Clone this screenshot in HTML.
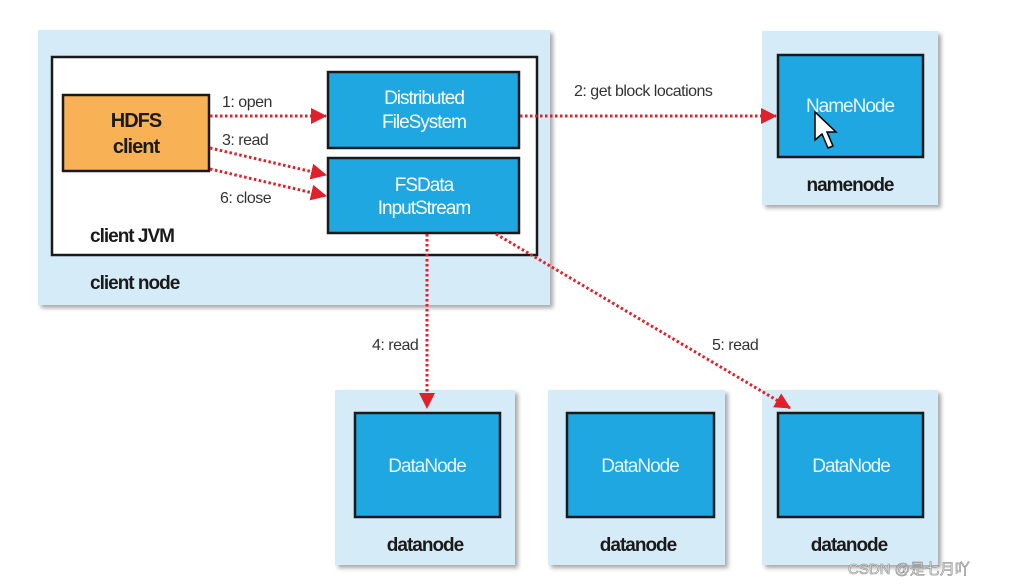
<!DOCTYPE html>
<html><head><meta charset="utf-8"><style>
html,body{margin:0;padding:0;background:#fff;width:1015px;height:588px;overflow:hidden}
svg text{font-family:"Liberation Sans","DejaVu Sans",sans-serif}
</style></head><body>
<svg width="1015" height="588" viewBox="0 0 1015 588" xmlns="http://www.w3.org/2000/svg">
<defs>
<filter id="sh" x="-5%" y="-5%" width="115%" height="115%"><feDropShadow dx="3" dy="3" stdDeviation="2" flood-color="#000" flood-opacity="0.35"/></filter>
<marker id="ar2" markerWidth="16" markerHeight="16" refX="15" refY="8" orient="auto" markerUnits="userSpaceOnUse"><path d="M0,0 L16,8 L0,16 z" fill="#e0202a"/></marker>
</defs>
<!-- client node -->
<rect x="38" y="30" width="512" height="275" fill="#d5ebf7" filter="url(#sh)"/>
<rect x="52" y="57" width="485" height="198" fill="#fff" stroke="#1a1a1a" stroke-width="2.5"/>
<rect x="63" y="95" width="146" height="76" fill="#f8b154" stroke="#1a1a1a" stroke-width="2.5"/>
<text x="136" y="127" text-anchor="middle" font-size="20" font-weight="bold" fill="#1a1a1a" letter-spacing="-1">HDFS</text>
<text x="136" y="153" text-anchor="middle" font-size="20" font-weight="bold" fill="#1a1a1a" letter-spacing="-1">client</text>
<rect x="328" y="72" width="191" height="76" fill="#1ea7e1" stroke="#1a1a1a" stroke-width="2.5"/>
<text x="424" y="104" text-anchor="middle" font-size="19" fill="#fff" letter-spacing="-1">Distributed</text>
<text x="424" y="128" text-anchor="middle" font-size="19" fill="#fff" letter-spacing="-1">FileSystem</text>
<rect x="328" y="158" width="191" height="75" fill="#1ea7e1" stroke="#1a1a1a" stroke-width="2.5"/>
<text x="424" y="191" text-anchor="middle" font-size="19" fill="#fff" letter-spacing="-1">FSData</text>
<text x="424" y="214" text-anchor="middle" font-size="19" fill="#fff" letter-spacing="-1">InputStream</text>
<text x="90" y="242" font-size="19" font-weight="bold" fill="#1a1a1a" letter-spacing="-1">client JVM</text>
<text x="90" y="289" font-size="19" font-weight="bold" fill="#1a1a1a" letter-spacing="-1">client node</text>
<!-- namenode -->
<rect x="762" y="31" width="176" height="174" fill="#d5ebf7" filter="url(#sh)"/>
<rect x="778" y="55" width="145" height="102" fill="#1ea7e1" stroke="#1a1a1a" stroke-width="2.5"/>
<text x="850" y="112" text-anchor="middle" font-size="19" fill="#e8f6fd" letter-spacing="-1">NameNode</text>
<path d="M815,112 L815,140 L822,134 L828,148 L833,146 L827,132 L836,132 z" fill="#fff" stroke="#000" stroke-width="1.5"/>
<text x="850" y="191" text-anchor="middle" font-size="19" font-weight="bold" fill="#1a1a1a" letter-spacing="-1">namenode</text>
<!-- datanodes -->
<rect x="335" y="390" width="180" height="175" fill="#d5ebf7" filter="url(#sh)"/>
<rect x="355" y="413" width="145" height="104" fill="#1ea7e1" stroke="#1a1a1a" stroke-width="2.5"/>
<text x="427" y="472" text-anchor="middle" font-size="19" fill="#e8f6fd" letter-spacing="-1">DataNode</text>
<text x="425" y="551" text-anchor="middle" font-size="19" font-weight="bold" fill="#1a1a1a" letter-spacing="-1">datanode</text>
<rect x="548" y="390" width="177" height="175" fill="#d5ebf7" filter="url(#sh)"/>
<rect x="567" y="413" width="147" height="104" fill="#1ea7e1" stroke="#1a1a1a" stroke-width="2.5"/>
<text x="640" y="472" text-anchor="middle" font-size="19" fill="#e8f6fd" letter-spacing="-1">DataNode</text>
<text x="638" y="551" text-anchor="middle" font-size="19" font-weight="bold" fill="#1a1a1a" letter-spacing="-1">datanode</text>
<rect x="762" y="390" width="176" height="175" fill="#d5ebf7" filter="url(#sh)"/>
<rect x="778" y="413" width="145" height="104" fill="#1ea7e1" stroke="#1a1a1a" stroke-width="2.5"/>
<text x="851" y="472" text-anchor="middle" font-size="19" fill="#e8f6fd" letter-spacing="-1">DataNode</text>
<text x="849" y="551" text-anchor="middle" font-size="19" font-weight="bold" fill="#1a1a1a" letter-spacing="-1">datanode</text>
<!-- arrows -->
<g stroke="#e0202a" stroke-width="3" stroke-dasharray="2.5,2.5" fill="none">
<line x1="210" y1="116" x2="326" y2="116" marker-end="url(#ar2)"/>
<line x1="210" y1="148" x2="326" y2="175" marker-end="url(#ar2)"/>
<line x1="210" y1="169" x2="326" y2="196" marker-end="url(#ar2)"/>
<line x1="520" y1="116" x2="776" y2="116" marker-end="url(#ar2)"/>
<line x1="427" y1="234" x2="427" y2="408" marker-end="url(#ar2)"/>
<line x1="496" y1="234" x2="790" y2="408" marker-end="url(#ar2)"/>
</g>
<g font-size="16" fill="#333" letter-spacing="-0.5">
<text x="222" y="107">1: open</text>
<text x="222" y="145">3: read</text>
<text x="220" y="203">6: close</text>
<text x="574" y="96">2: get block locations</text>
<text x="372" y="350">4: read</text>
<text x="712" y="350">5: read</text>
</g>
<text x="848" y="574" font-size="15" fill="#f4f4f4" stroke="#888" stroke-width="0.6" style="font-family:'Liberation Sans','Noto Sans CJK SC',sans-serif">CSDN @是七月吖</text>
</svg>
</body></html>
